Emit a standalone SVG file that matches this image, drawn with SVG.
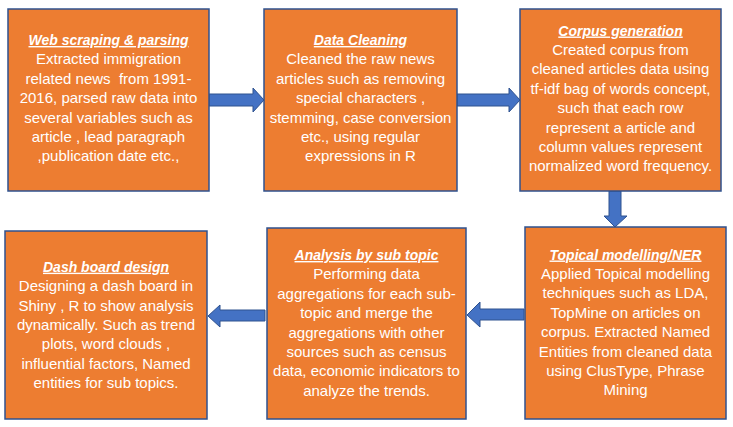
<svg xmlns="http://www.w3.org/2000/svg" width="733" height="427" viewBox="0 0 733 427">
<style>
.box{fill:#ED7D31;stroke:#2F528F;stroke-width:1.5}
.arrow{fill:#4472C4;stroke:#2F528F;stroke-width:1}
text{font-family:"Liberation Sans",Arial,sans-serif;fill:#FFFFFF;text-anchor:middle;font-size:15px;white-space:pre}
.t{font-weight:bold;font-style:italic;font-size:14px;text-decoration:underline}
</style>
<rect width="733" height="427" fill="#FFFFFF"/>
<g id="connectors">
<path class="arrow" d="M209,94 H253 V88 L264,100 L253,112 V106 H209 Z"/>
<path class="arrow" d="M457,94 H509 V88 L520,100 L509,112 V106 H457 Z"/>
<path class="arrow" d="M609,191 V216 H604 L615,227 L627,216 H621 V191 Z"/>
<path class="arrow" d="M524,309 H480 V302 L467,315 L480,327 V320 H524 Z"/>
<path class="arrow" d="M265,310 H220 V305 L208,316 L220,327 V321 H265 Z"/>
</g>
<g id="web-scraping">
<rect class="box" x="8" y="9" width="201" height="182"/>
<text x="108.5" y="45" class="t">Web scraping &amp; parsing</text>
<text x="108.5" y="64.4">Extracted immigration</text>
<text x="108.5" y="83.8">related news  from 1991-</text>
<text x="108.5" y="103.2">2016, parsed raw data into</text>
<text x="108.5" y="122.6">several variables such as</text>
<text x="108.5" y="142">article , lead paragraph</text>
<text x="108.5" y="161.4">,publication date etc.,</text>
</g>
<g id="data-cleaning">
<rect class="box" x="264" y="9" width="193" height="182"/>
<text x="360.5" y="45" class="t">Data Cleaning</text>
<text x="360.5" y="64.4">Cleaned the raw news</text>
<text x="360.5" y="83.8">articles such as removing</text>
<text x="360.5" y="103.2">special characters ,</text>
<text x="360.5" y="122.6">stemming, case conversion</text>
<text x="360.5" y="142">etc., using regular</text>
<text x="360.5" y="161.4">expressions in R</text>
</g>
<g id="corpus-generation">
<rect class="box" x="520" y="9" width="201" height="182"/>
<text x="620.5" y="35.5" class="t">Corpus generation</text>
<text x="620.5" y="54.9">Created corpus from</text>
<text x="620.5" y="74.3">cleaned articles data using</text>
<text x="620.5" y="93.7">tf-idf bag of words concept,</text>
<text x="620.5" y="113.1">such that each row</text>
<text x="620.5" y="132.5">represent a article and</text>
<text x="620.5" y="151.9">column values represent</text>
<text x="620.5" y="171.3">normalized word frequency.</text>
</g>
<g id="topical-modelling">
<rect class="box" x="525" y="227" width="201" height="192"/>
<text x="625.5" y="259.5" class="t">Topical modelling/NER</text>
<text x="625.5" y="278.9">Applied Topical modelling</text>
<text x="625.5" y="298.3">techniques such as LDA,</text>
<text x="625.5" y="317.7">TopMine on articles on</text>
<text x="625.5" y="337.1">corpus. Extracted Named</text>
<text x="625.5" y="356.5">Entities from cleaned data</text>
<text x="625.5" y="375.9">using ClusType, Phrase</text>
<text x="625.5" y="395.3">Mining</text>
</g>
<g id="analysis-sub-topic">
<rect class="box" x="267" y="228" width="199" height="191"/>
<text x="366.5" y="260" class="t">Analysis by sub topic</text>
<text x="366.5" y="279.4">Performing data</text>
<text x="366.5" y="298.8">aggregations for each sub-</text>
<text x="366.5" y="318.2">topic and merge the</text>
<text x="366.5" y="337.6">aggregations with other</text>
<text x="366.5" y="357">sources such as census</text>
<text x="366.5" y="376.4">data, economic indicators to</text>
<text x="366.5" y="395.8">analyze the trends.</text>
</g>
<g id="dashboard-design">
<rect class="box" x="5" y="231" width="202" height="188"/>
<text x="106" y="271.7" class="t">Dash board design</text>
<text x="106" y="291.1">Designing a dash board in</text>
<text x="106" y="310.5">Shiny , R to show analysis</text>
<text x="106" y="329.9">dynamically. Such as trend</text>
<text x="106" y="349.3">plots, word clouds ,</text>
<text x="106" y="368.7">influential factors, Named</text>
<text x="106" y="388.1">entities for sub topics.</text>
</g>
</svg>
